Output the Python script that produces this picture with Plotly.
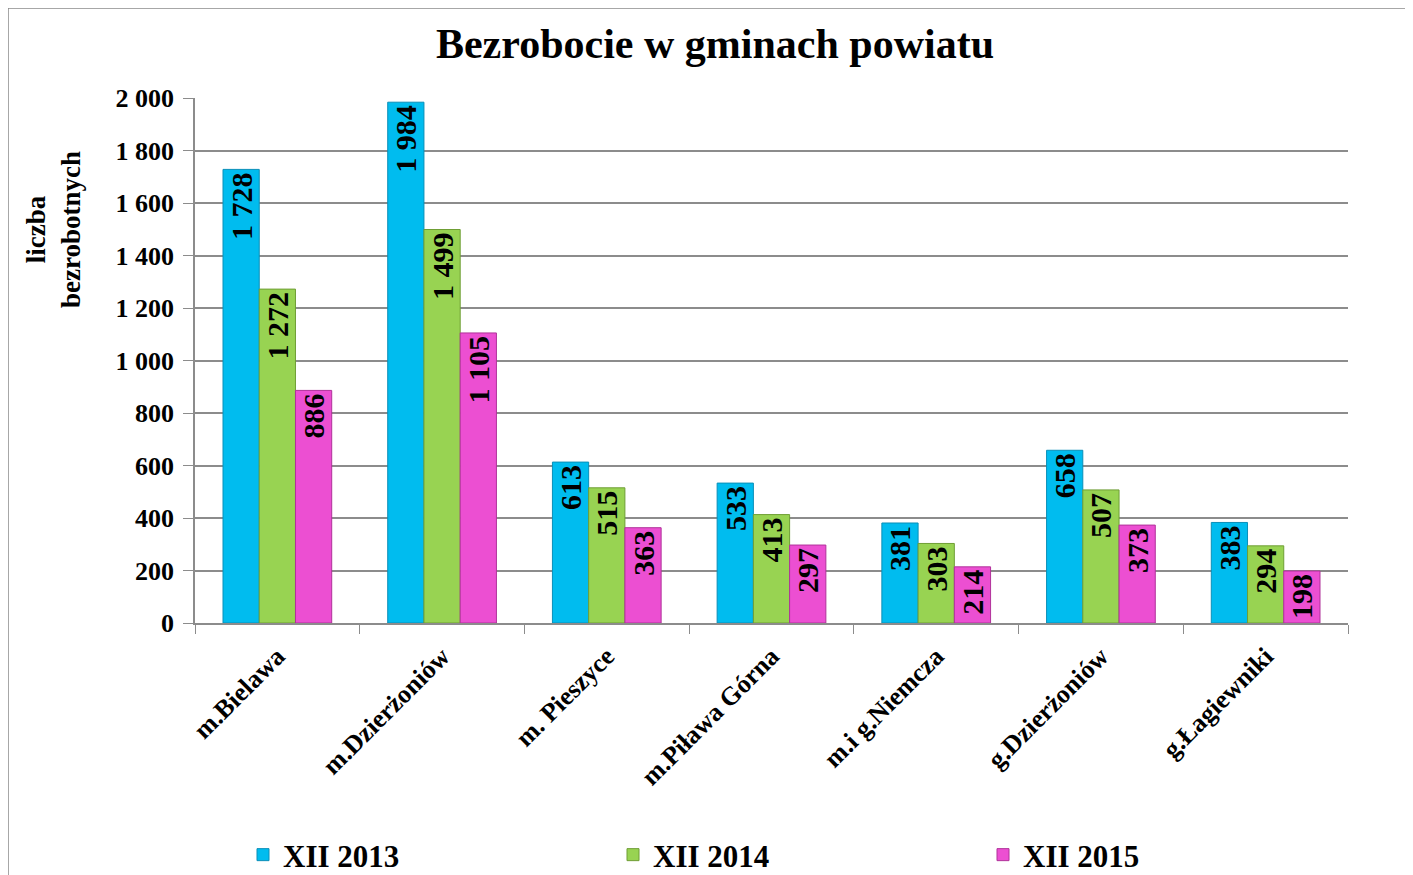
import plotly.graph_objects as go

# data
gminy = ["m.Bielawa", "m.Dzierżoniów", "m. Pieszyce", "m.Piława Górna",
         "m.i g.Niemcza", "g.Dzierżoniów", "g.Łagiewniki"]
xii_2013 = [1728, 1984, 613, 533, 381, 658, 383]
xii_2014 = [1272, 1499, 515, 413, 303, 507, 294]
xii_2015 = [886, 1105, 363, 297, 214, 373, 198]

series = [
    ("XII 2013", xii_2013, "#00BCEF", "#0a8fb8"),
    ("XII 2014", xii_2014, "#98D352", "#6f9e35"),
    ("XII 2015", xii_2015, "#EC4FD2", "#b0329a"),
]

FONT = "Liberation Serif, Times New Roman, serif"

# page has an 8px body margin, so work in screen pixels and shift
OFF = 8
W, H = 1413 - OFF, 875 - OFF
L, R, T, B = 195 - OFF, 1348 - OFF, 98 - OFF, 623 - OFF


def px_x(p):
    return (p - OFF - L) / (R - L)


def px_y(p):
    return (B - (p - OFF)) / (B - T)


fig = go.Figure()
for name, vals, col, edge in series:
    fig.add_trace(go.Bar(
        x=gminy, y=vals, name="<b>" + name + "</b>",
        marker=dict(color=col, line=dict(color=edge, width=1)),
        texttemplate="<b>%{y:,}</b>",
        textposition="inside",
        insidetextanchor="end",
        textangle=-90,
        constraintext="none",
        textfont=dict(family=FONT, size=30, color="black"),
        cliponaxis=False,
    ))

fig.update_layout(
    width=W, height=H,
    margin=dict(l=L, r=W - R, t=T, b=H - B, autoexpand=False),
    paper_bgcolor="white", plot_bgcolor="white",
    separators=", ",
    barmode="group", bargap=0.34, bargroupgap=0,
    font=dict(family=FONT, color="black"),
    title=dict(text="<b>Bezrobocie w gminach powiatu</b>",
               font=dict(family=FONT, size=42, color="black"),
               x=(715 - OFF) / W, xref="container", xanchor="center",
               y=1 - (43 - OFF) / H, yanchor="middle"),
    showlegend=True,
    legend=dict(orientation="h", x=px_x(243), y=px_y(855),
                xanchor="left", yanchor="middle",
                entrywidth=325, entrywidthmode="pixels",
                itemwidth=30,
                font=dict(family=FONT, size=31, color="black"),
                traceorder="normal"),
    shapes=[dict(type="rect", xref="paper", yref="paper",
                 x0=px_x(8), x1=px_x(1408), y0=px_y(900), y1=px_y(8),
                 line=dict(color="#8a8a8a", width=1.5), layer="below")],
    annotations=[dict(text="<b>liczba<br>bezrobotnych</b>", textangle=-90,
                      xref="paper", yref="paper", x=px_x(53), y=px_y(230),
                      xanchor="center", yanchor="middle",
                      showarrow=False, align="center",
                      font=dict(family=FONT, size=27, color="black"))],
)

fig.update_yaxes(
    range=[0, 2000], dtick=200, separatethousands=True,
    showgrid=True, gridcolor="#8c8c8c", gridwidth=1.5,
    showline=True, linecolor="#8c8c8c", linewidth=1.5,
    ticks="outside", ticklen=10, tickcolor="#8c8c8c",
    ticklabelstandoff=4,
    tickfont=dict(family=FONT, size=26, color="black"),
    tickprefix="<b>", ticksuffix="</b>",
    zeroline=False,
)
fig.update_xaxes(
    showline=True, linecolor="#8c8c8c", linewidth=1.5,
    ticks="outside", tickson="boundaries", ticklen=9, tickcolor="#8c8c8c",
    tickangle=-45, ticklabelstandoff=6,
    tickfont=dict(family=FONT, size=26, color="black"),
    tickprefix="<b>", ticksuffix="</b>",
)

fig.write_html("out.html")
